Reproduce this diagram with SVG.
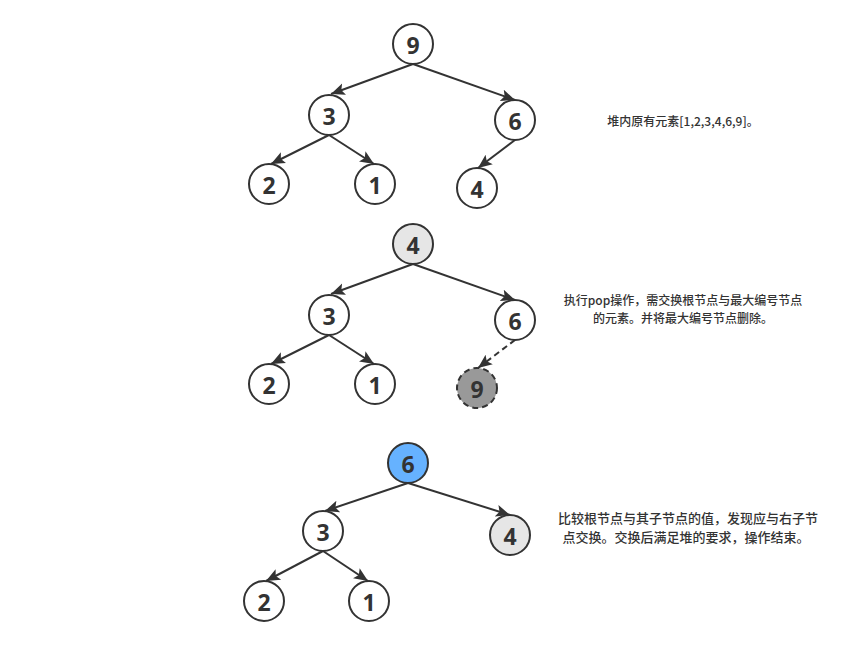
<svg xmlns="http://www.w3.org/2000/svg" width="851" height="646" viewBox="0 0 851 646">
<style>
.n circle{stroke:#333333;stroke-width:2;fill:#ffffff}
.n text{font-family:"Open Sans","Liberation Sans",sans-serif;font-weight:bold;font-size:23px;fill:#333333;text-anchor:middle;dominant-baseline:central}
.e line{stroke:#333333;stroke-width:2}
.d{stroke-dasharray:6 4}
.t{font-family:"Noto Sans CJK SC","Noto Sans",sans-serif;font-size:12px;fill:#333333;text-anchor:middle;font-weight:500}
.t3{font-size:13px}
</style>
<defs>
<marker id="a" markerUnits="userSpaceOnUse" markerWidth="15" markerHeight="14" refX="14" refY="7" orient="auto">
<path d="M0,1 L14,7 L0,13 L3,7 Z" fill="#333333"/>
</marker>
</defs>
<rect width="851" height="646" fill="#ffffff"/>
<g class="e" id="connectors">
<line x1="413" y1="64" x2="331" y2="94" marker-end="url(#a)"/>
<line x1="413" y1="64" x2="515" y2="100" marker-end="url(#a)"/>
<line x1="329" y1="135" x2="271" y2="164" marker-end="url(#a)"/>
<line x1="329" y1="135" x2="374" y2="164" marker-end="url(#a)"/>
<line x1="515" y1="140" x2="478" y2="168" marker-end="url(#a)"/>
<line x1="413" y1="264" x2="331" y2="294" marker-end="url(#a)"/>
<line x1="413" y1="264" x2="515" y2="300" marker-end="url(#a)"/>
<line x1="329" y1="335" x2="271" y2="364" marker-end="url(#a)"/>
<line x1="329" y1="335" x2="374" y2="364" marker-end="url(#a)"/>
<line class="d" x1="515" y1="340" x2="478" y2="368" marker-end="url(#a)"/>
<line x1="408" y1="483" x2="325" y2="511" marker-end="url(#a)"/>
<line x1="408" y1="483" x2="510" y2="515" marker-end="url(#a)"/>
<line x1="323" y1="551" x2="266" y2="581" marker-end="url(#a)"/>
<line x1="323" y1="551" x2="368" y2="581" marker-end="url(#a)"/>
</g>
<g class="n" id="t1n9"><circle cx="413" cy="44" r="20"/><text x="413" y="45">9</text></g>
<g class="n" id="t1n3"><circle cx="329" cy="115" r="20"/><text x="329" y="116">3</text></g>
<g class="n" id="t1n6"><circle cx="515" cy="120" r="20"/><text x="515" y="121">6</text></g>
<g class="n" id="t1n2"><circle cx="269" cy="184" r="20"/><text x="269" y="185">2</text></g>
<g class="n" id="t1n1"><circle cx="375" cy="184" r="20"/><text x="375" y="185">1</text></g>
<g class="n" id="t1n4"><circle cx="477" cy="188" r="20"/><text x="477" y="189">4</text></g>
<g class="n" id="t2n4"><circle cx="413" cy="244" r="20" style="fill:#e6e6e6"/><text x="413" y="245">4</text></g>
<g class="n" id="t2n3"><circle cx="329" cy="315" r="20"/><text x="329" y="316">3</text></g>
<g class="n" id="t2n6"><circle cx="515" cy="320" r="20"/><text x="515" y="321">6</text></g>
<g class="n" id="t2n2"><circle cx="269" cy="384" r="20"/><text x="269" y="385">2</text></g>
<g class="n" id="t2n1"><circle cx="375" cy="384" r="20"/><text x="375" y="385">1</text></g>
<g class="n" id="t2n9"><circle cx="477" cy="388" r="20" class="d" style="fill:#999999"/><text x="477" y="389">9</text></g>
<g class="n" id="t3n6"><circle cx="408" cy="463" r="20" style="fill:#66b2ff"/><text x="408" y="464">6</text></g>
<g class="n" id="t3n3"><circle cx="323" cy="531" r="20"/><text x="323" y="532">3</text></g>
<g class="n" id="t3n4"><circle cx="510" cy="535" r="20" style="fill:#e6e6e6"/><text x="510" y="536">4</text></g>
<g class="n" id="t3n2"><circle cx="264" cy="601" r="20"/><text x="264" y="602">2</text></g>
<g class="n" id="t3n1"><circle cx="369" cy="601" r="20"/><text x="369" y="602">1</text></g>
<g id="notes">
<text class="t" x="683" y="126">堆内原有元素[1,2,3,4,6,9]。</text>
<text class="t" x="683" y="305">执行pop操作，需交换根节点与最大编号节点</text>
<text class="t" x="683" y="323">的元素。并将最大编号节点删除。</text>
<text class="t t3" x="688" y="523">比较根节点与其子节点的值，发现应与右子节</text>
<text class="t t3" x="686" y="542">点交换。交换后满足堆的要求，操作结束。</text>
</g>
</svg>
